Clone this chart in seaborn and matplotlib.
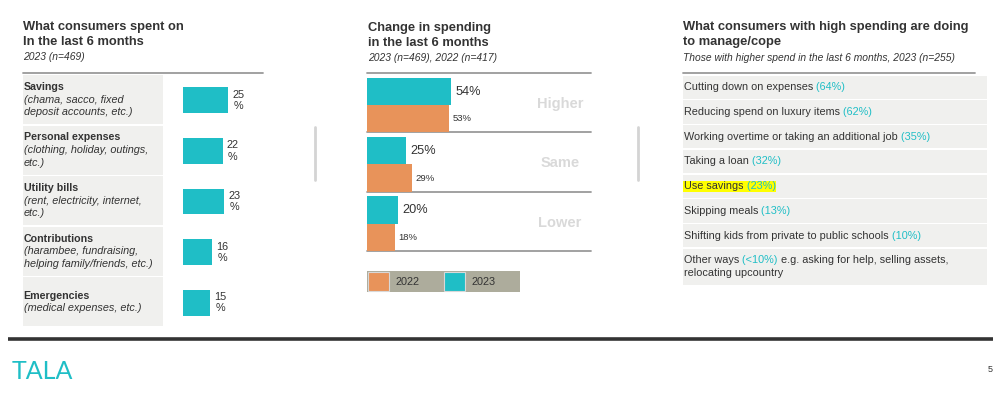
import numpy as np
import pandas as pd
import matplotlib
matplotlib.use("Agg")
import matplotlib.pyplot as plt
from matplotlib.patches import Rectangle
import seaborn as sns

# ---- data ----
spend_categories = ["Savings", "Personal expenses", "Utility bills", "Contributions", "Emergencies"]
spend_details = ["(chama, sacco, fixed\ndeposit accounts, etc.)",
                 "(clothing, holiday, outings,\netc.)",
                 "(rent, electricity, internet,\netc.)",
                 "(harambee, fundraising,\nhelping family/friends, etc.)",
                 "(medical expenses, etc.)"]
spend_values = [25, 22, 23, 16, 15]

change_categories = ["Higher", "Same", "Lower"]
change_2023 = [54, 25, 20]
change_2022 = [53, 29, 18]
years = ["2023", "2022"]

cope_actions = ["Cutting down on expenses", "Reducing spend on luxury items",
                "Working overtime or taking an additional job", "Taking a loan",
                "Use savings", "Skipping meals",
                "Shifting kids from private to public schools", "Other ways"]
cope_pcts = ["64%", "62%", "35%", "32%", "23%", "13%", "10%", "<10%"]
cope_notes = ["", "", "", "", "", "", "", " e.g. asking for help, selling assets,\nrelocating upcountry"]
highlight = "Use savings"

TEAL = "#1FBEC6"
ORANGE = "#E8935A"
DARK = "#333333"
ROWBG = "#F0F0EE"
LINE = "#9A9A9A"

sns.set_theme(style="white")
plt.rcParams["font.family"] = ["Liberation Sans", "DejaVu Sans"]

W, H = 1005, 394
fig = plt.figure(figsize=(W / 100, H / 100), dpi=100)

# overlay axes in pixel coordinates for slide decoration
ov = fig.add_axes([0, 0, 1, 1], zorder=0)
ov.set_xlim(0, W)
ov.set_ylim(H, 0)
ov.axis("off")


def px_axes(x0, y0, x1, y1):
    ax = fig.add_axes([x0 / W, 1 - y1 / H, (x1 - x0) / W, (y1 - y0) / H], zorder=2)
    ax.patch.set_alpha(0)
    return ax


def title(x, y, lines, sub):
    for i, ln in enumerate(lines):
        ov.text(x, y + i * 15.3, ln, fontsize=9.3, fontweight="bold", color=DARK, va="baseline")
    ov.text(x, y + 30.5, sub, fontsize=7.4, style="italic", color=DARK, va="baseline")


# ---- left panel ----
title(23, 29.5, ["What consumers spent on", "In the last 6 months"], "2023 (n=469)")
ov.plot([23, 263], [73, 73], color=LINE, lw=1.3)
row_h = 50.6
for i, (cat, det) in enumerate(zip(spend_categories, spend_details)):
    top = 75 + i * row_h
    ov.add_patch(Rectangle((23, top), 140, row_h - 1.6, color=ROWBG, lw=0))
    lines = det.split("\n")
    n = len(lines) + 1
    cy = top + (row_h - 1.6) / 2
    y0 = cy - (n - 1) * 12.6 / 2
    ov.text(23.5, y0, cat, fontsize=7.7, fontweight="bold", color=DARK, va="center")
    for j, ln in enumerate(lines):
        ov.text(23.5, y0 + (j + 1) * 12.6, ln, fontsize=7.8, style="italic", color=DARK, va="center")

axL = px_axes(183, 75, 263, 75 + 5 * row_h)
df_left = pd.DataFrame({"category": spend_categories, "pct": spend_values})
sns.barplot(data=df_left, x="pct", y="category", orient="h", color=TEAL, saturation=1,
            width=0.51, linewidth=0, ax=axL)
axL.set_xlim(0, 80 / 1.8)
axL.set_ylim(len(spend_categories) - 0.5, -0.5)
axL.axis("off")
axL.bar_label(axL.containers[0], labels=[f"{v}\n%" for v in spend_values], padding=3,
              fontsize=7.8, color=DARK, multialignment="center", linespacing=1.15)

# separators
for sx in (315, 638):
    ov.plot([sx, sx], [127, 180], color="#D4D4D4", lw=2)

# ---- middle panel ----
title(368, 30.5, ["Change in spending", "in the last 6 months"], "2023 (n=469), 2022 (n=417)")
grp_h = 59.3
for k in range(len(change_categories) + 1):
    ov.plot([367, 591], [73 + k * grp_h, 73 + k * grp_h], color=LINE, lw=1.3)

df_change = pd.DataFrame({"category": change_categories, "2023": change_2023, "2022": change_2022})
df_change = df_change.melt(id_vars="category", var_name="year", value_name="pct")
axM = px_axes(367, 75.5, 591, 75.5 + 3 * grp_h)
sns.barplot(data=df_change, x="pct", y="category", hue="year", hue_order=years,
            palette={"2023": TEAL, "2022": ORANGE}, orient="h", saturation=1,
            width=0.92, linewidth=0, legend=False, ax=axM)
px_per = 1.556
axM.set_xlim(0, 224 / px_per)
axM.set_ylim(len(change_categories) - 0.5, -0.5)
axM.axis("off")
axM.bar_label(axM.containers[0], labels=[f"{v}%" for v in change_2023], padding=3,
              fontsize=9.2, color=DARK)
axM.bar_label(axM.containers[1], labels=[f"{v}%" for v in change_2022], padding=2.5,
              fontsize=6.8, color=DARK)
for i, c in enumerate(change_categories):
    axM.text((560 - 367) / px_per, i - 0.02, c, fontsize=10.5, fontweight="bold",
             color="#D9D9D9", ha="center", va="center")

# legend
ov.add_patch(Rectangle((367, 271), 153, 21, color="#ADAC9C", lw=0))
for lx, yr, col in [(368, "2022", ORANGE), (444, "2023", TEAL)]:
    ov.add_patch(Rectangle((lx, 272), 20.5, 19, facecolor=col, edgecolor="#D8D8D8", lw=0.8))
    ov.text(lx + 28, 282, yr, fontsize=7.8, color=DARK, va="center")

# ---- right panel ----
title(683, 30, ["What consumers with high spending are doing", "to manage/cope"],
      "Those with higher spend in the last 6 months, 2023 (n=255)")
ov.plot([683, 975], [73, 73], color=LINE, lw=1.3)
for i, (act, pct, note) in enumerate(zip(cope_actions, cope_pcts, cope_notes)):
    top = 75.5 + i * 24.75
    h = 23.3 if not note else 36
    ov.add_patch(Rectangle((683, top), 304, h, color=ROWBG, lw=0))
    n_lines = note.count("\n") + 1
    y = top + h / 2 - (n_lines - 1) * 6.5
    bb = dict(boxstyle="square,pad=0.05", fc="#FFFF00", ec="none") if act == highlight else None
    t1 = ov.text(684, y, act, fontsize=7.8, color=DARK, va="center", bbox=bb)
    t2 = ov.annotate(f" ({pct})", xy=(1, 0), xycoords=t1, va="bottom", ha="left",
                     fontsize=7.8, color=TEAL, bbox=bb)
    if note:
        first, *rest = note.split("\n")
        ov.annotate(first, xy=(1, 0), xycoords=t2, va="bottom", ha="left",
                    fontsize=7.8, color=DARK)
        for j, ln in enumerate(rest):
            ov.text(684, y + (j + 1) * 13, ln, fontsize=7.8, color=DARK, va="center")

# ---- footer ----
ov.plot([8, 993], [339, 339], color=DARK, lw=2.6, solid_capstyle="butt")
ov.text(12, 379, "TALA", fontsize=18, color=TEAL, family=["Lato", "DejaVu Sans"],
        fontweight="normal", va="baseline")
ov.text(990, 370, "5", fontsize=6.5, color=DARK, ha="center", va="center")

fig.savefig("out.png", dpi=100)
